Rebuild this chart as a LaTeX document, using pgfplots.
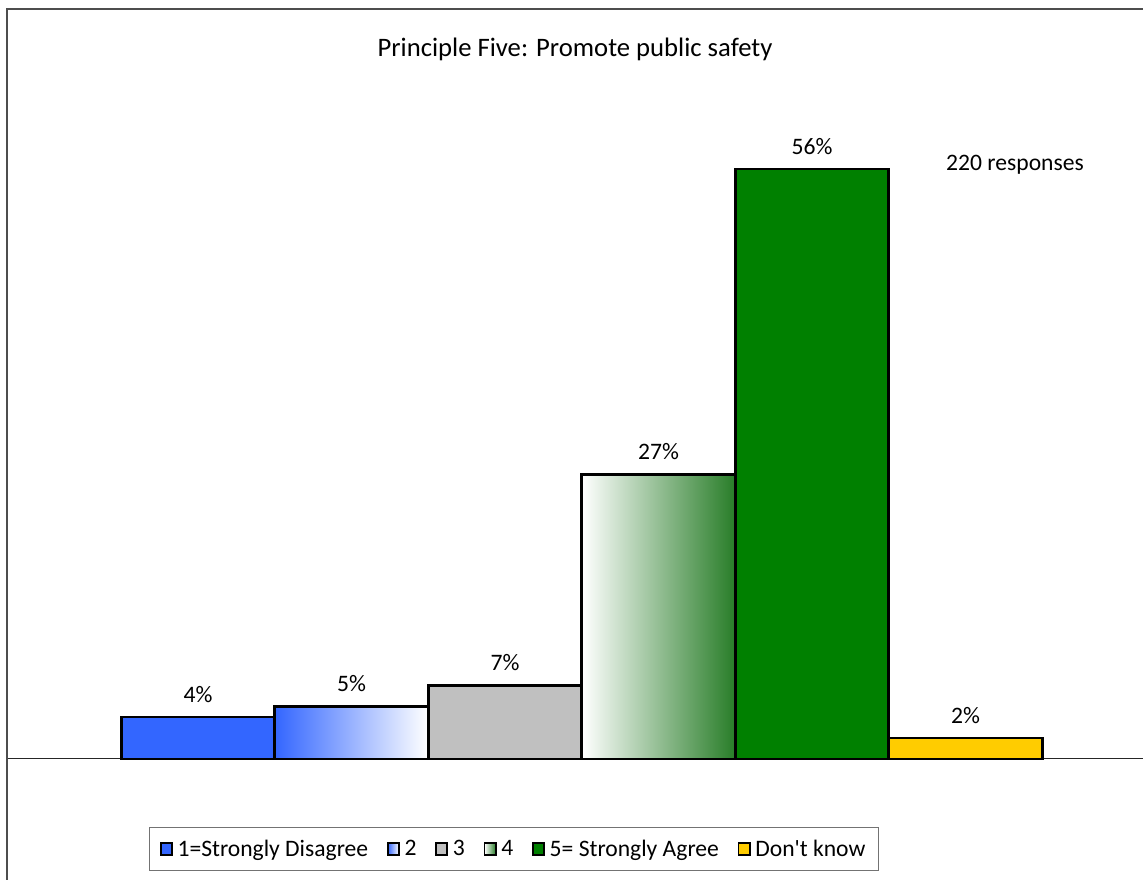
\documentclass[border=0pt]{standalone}
\usepackage{fontspec}
\setmainfont{Carlito}[Ligatures=TeXOff]
\usepackage{pgfplots}
\pgfplotsset{compat=1.18}
\definecolor{cblue}{RGB}{51,102,255}
\definecolor{cgray}{RGB}{192,192,192}
\definecolor{cgreen}{RGB}{0,128,0}
\definecolor{cgreenb}{RGB}{40,125,40}
\definecolor{cgreenm}{RGB}{212,225,212}
\definecolor{cyellow}{RGB}{255,204,0}
\definecolor{framec}{RGB}{77,77,77}
\newcommand{\tfont}{\fontsize{20}{24}\selectfont}
\newcommand{\cfont}{\fontsize{17.7}{21}\selectfont}
\pgfplotsset{myleg/.style={legend image code/.code={\draw[##1, draw=black, line width=1.4pt] (0pt,-4.2pt) rectangle (8.4pt,4.2pt);}}}
\begin{document}
\begin{tikzpicture}[x=0.75pt,y=0.75pt]
\useasboundingbox (0,0) rectangle (1143,880);
\clip (0,0) rectangle (1143,880);
\fill[white] (0,0) rectangle (1143,880);
\draw[framec, line width=1.5pt] (7,871) -- (1170,871) -- (1170,-20) -- (7,-20) -- cycle;
\node[font=\tfont] at (575,831) {Principle Five: Promote public safety};
\node[font=\cfont] at (1015,715) {220 responses};
\begin{axis}[
  at={(6pt,90.75pt)}, anchor=south west,
  scale only axis, width=851.25pt, height=474pt,
  xmin=-1.238, xmax=6.156, ymin=0, ymax=60,
  axis x line*=bottom, axis y line=none,
  xtick=\empty, ytick=\empty,
  x axis line style={black!85, line width=0.75pt},
  ybar, bar width=1,
  /pgf/number format/assume math mode=true,
  nodes near coords={\pgfmathprintnumber{\pgfplotspointmeta}\%},
  every node near coord/.append style={anchor=center, yshift=17pt, font=\cfont, text=black},
  legend columns=6,
  legend style={at={(0.4458,-0.1424)}, anchor=center, draw=black!55, line width=0.75pt,
    font=\cfont, inner xsep=8pt, inner ysep=7pt,
    /tikz/every odd column/.append style={column sep=1.5pt},
    /tikz/every even column/.append style={column sep=12pt}},
  clip=false,
]
\addplot[bar shift=0pt, fill=cblue, draw=black, line width=2pt, myleg] coordinates {(0,4)};
\addlegendentry{1=Strongly Disagree}
\addplot[bar shift=0pt, left color=cblue, right color=white, draw=black, line width=2pt, myleg] coordinates {(1,5)};
\addlegendentry{2}
\addplot[bar shift=0pt, fill=cgray, draw=black, line width=2pt, myleg] coordinates {(2,7)};
\addlegendentry{3}
\addplot[bar shift=0pt, left color=white, middle color=cgreenm, right color=cgreenb, draw=black, line width=2pt, myleg] coordinates {(3,27)};
\addlegendentry{4}
\addplot[bar shift=0pt, fill=cgreen, draw=black, line width=2pt, myleg] coordinates {(4,56)};
\addlegendentry{5= Strongly Agree}
\addplot[bar shift=0pt, fill=cyellow, draw=black, line width=2pt, myleg] coordinates {(5,2)};
\addlegendentry{Don't know}
\end{axis}
\end{tikzpicture}
\end{document}
